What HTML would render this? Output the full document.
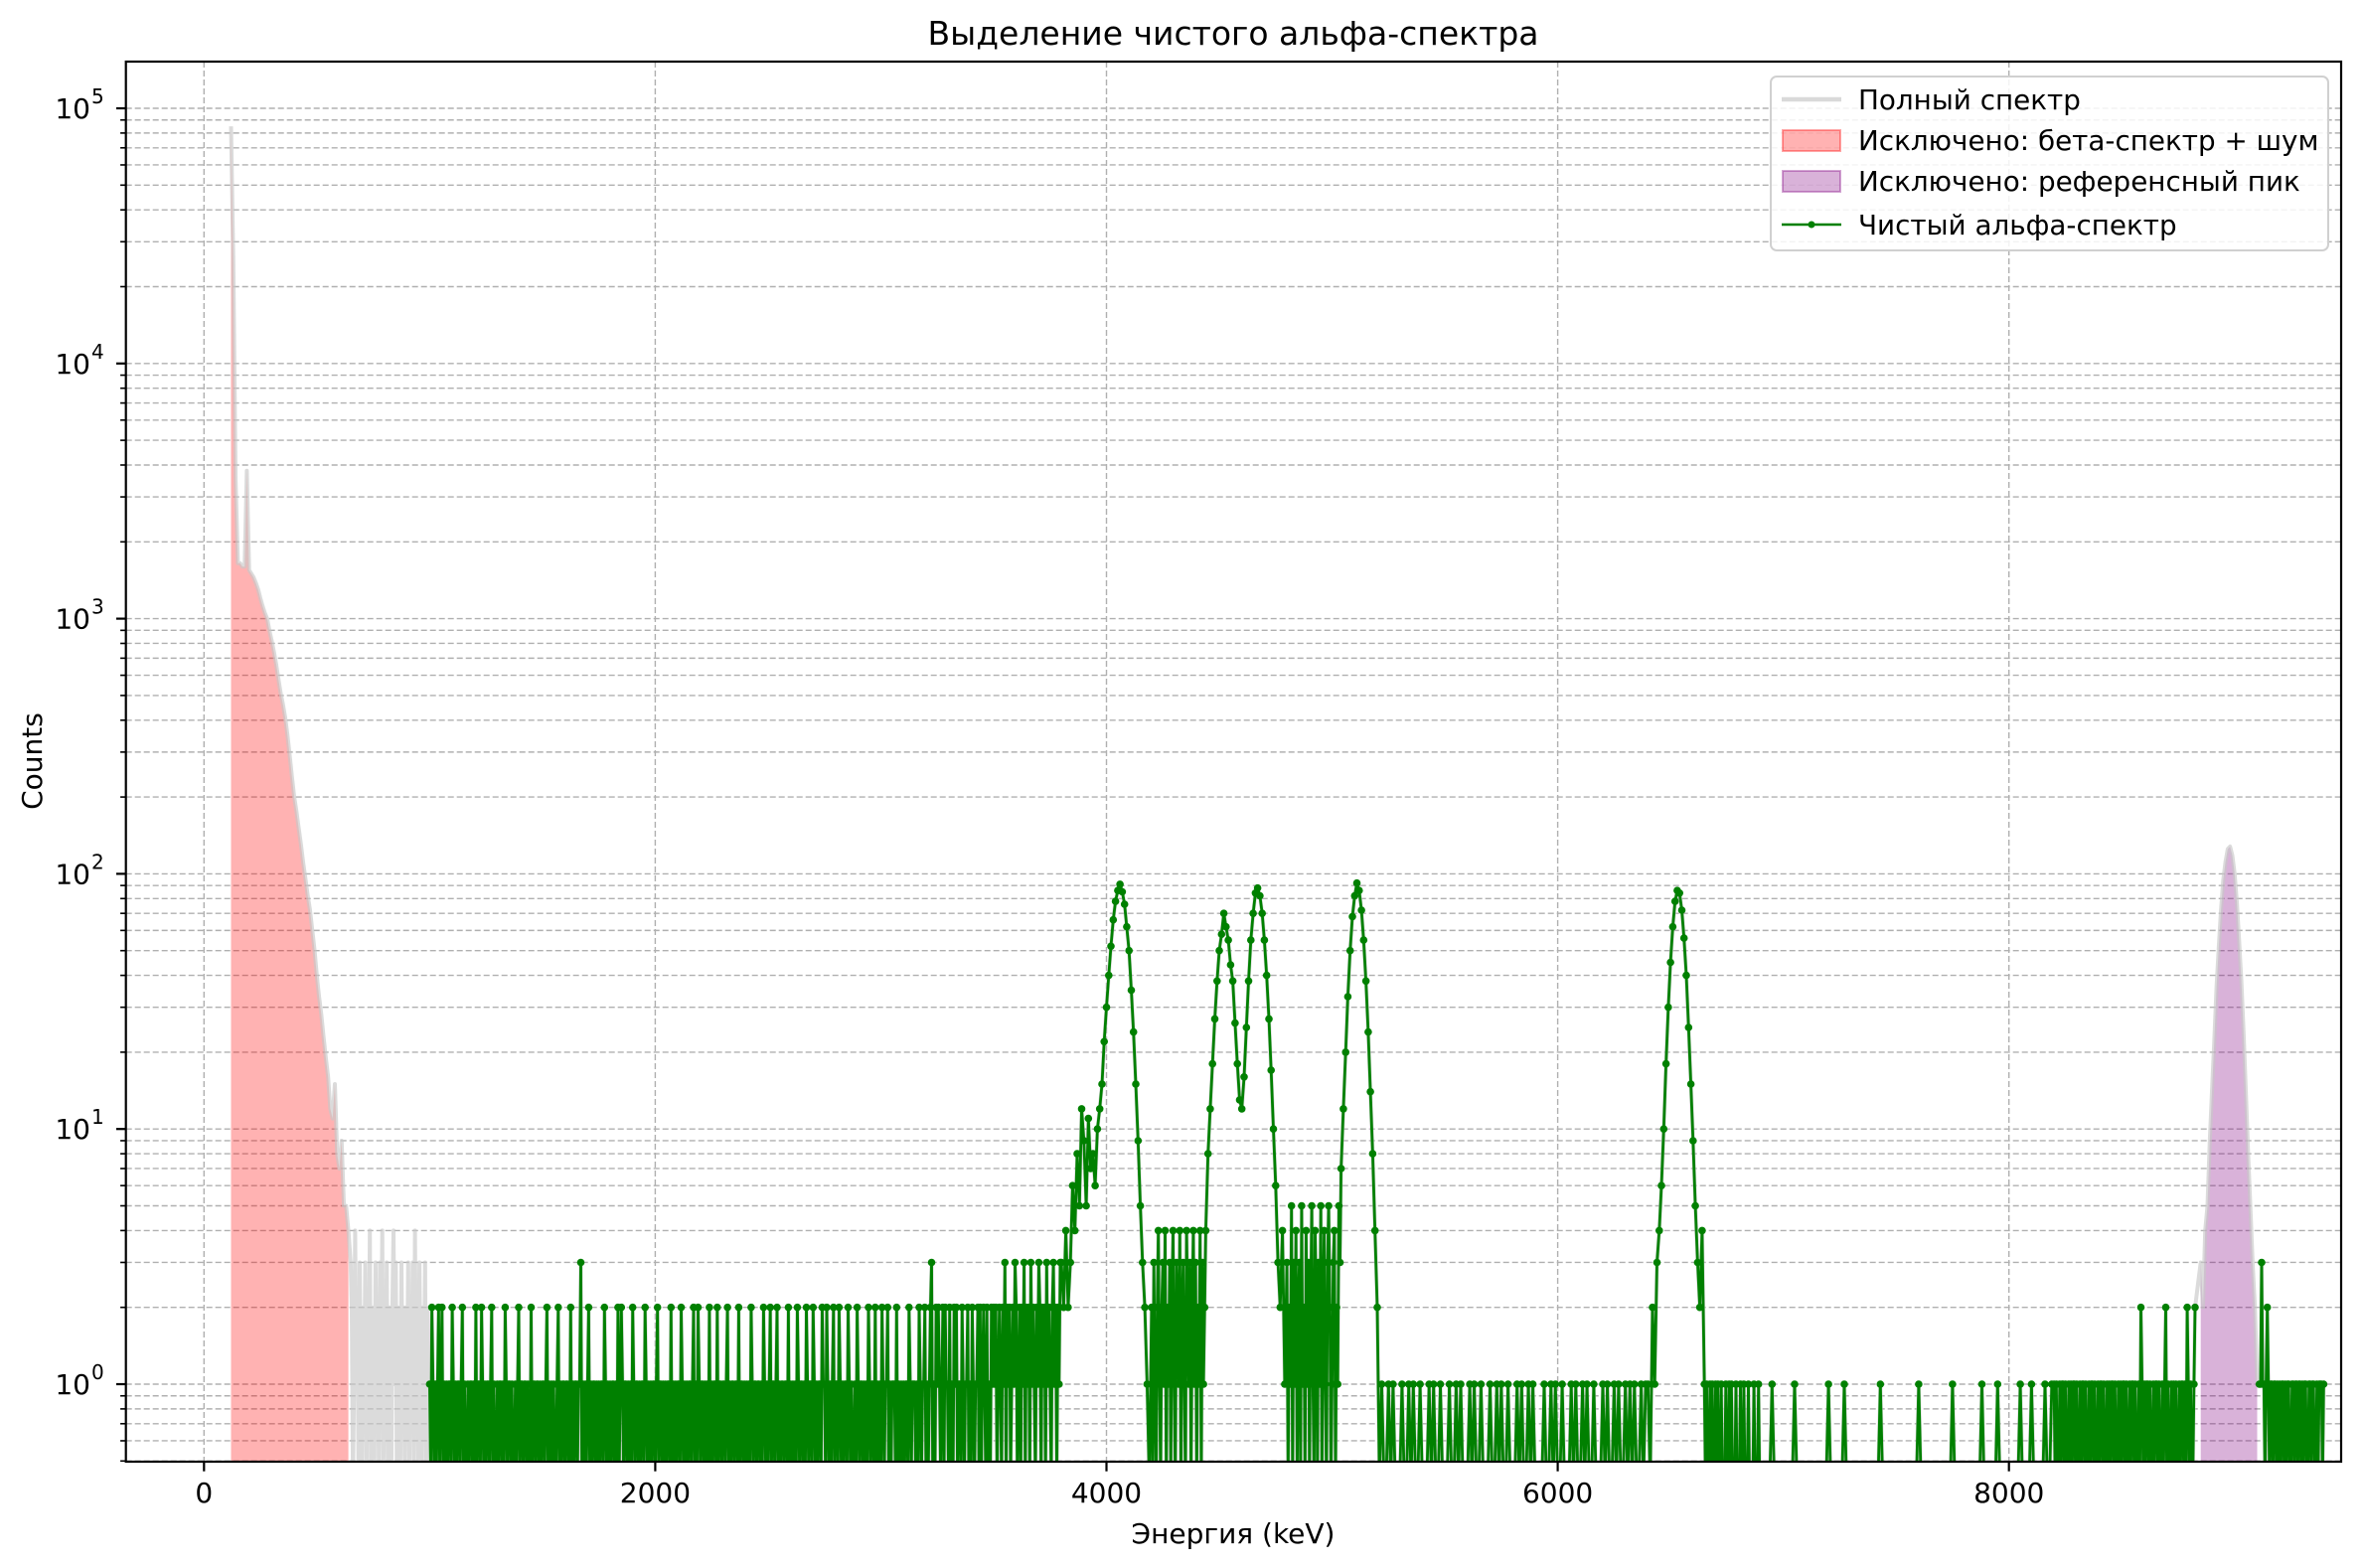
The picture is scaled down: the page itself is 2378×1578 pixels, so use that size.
<!DOCTYPE html>
<html><head><meta charset="utf-8"><style>
html,body{margin:0;padding:0;background:#fff}
svg{display:block;font-family:"DejaVu Sans","Liberation Sans",sans-serif}
</style></head><body>
<svg id="chart" xmlns="http://www.w3.org/2000/svg" width="2378" height="1578" viewBox="0 0 2378 1578">
<defs><clipPath id="plotClip"><rect x="126.7" y="62" width="2229.3" height="1409"/></clipPath></defs>
<rect width="2378" height="1578" fill="#fff"/>
<g id="grid"></g>
<g id="series" clip-path="url(#plotClip)"></g>
<rect x="126.7" y="62" width="2229.3" height="1409" fill="none" stroke="#000" stroke-width="2.2"/>
<g id="ticks"></g>
<text x="1241" y="45" text-anchor="middle" font-size="33">Выделение чистого альфа-спектра</text>
<text x="1241" y="1553" text-anchor="middle" font-size="28">Энергия (keV)</text>
<text transform="translate(42,766) rotate(-90)" text-anchor="middle" font-size="28">Counts</text>
<g>
<rect x="1782" y="77" width="561" height="175" rx="6" fill="#fff" fill-opacity="0.85" stroke="#d0d0d0" stroke-width="2"/>
<g><line x1="1793" y1="100" x2="1853" y2="100" stroke="#d9d9d9" stroke-width="4.5"/><text x="1870" y="110" font-size="27.8">Полный спектр</text></g>
<g><rect x="1794" y="131" width="58" height="21" fill="rgba(255,0,0,0.3)" stroke="rgba(255,0,0,0.35)" stroke-width="2"/><text x="1870" y="151" font-size="27.8">Исключено: бета-спектр + шум</text></g>
<g><rect x="1794" y="172" width="58" height="21" fill="rgba(128,0,128,0.3)" stroke="rgba(128,0,128,0.35)" stroke-width="2"/><text x="1870" y="192" font-size="27.8">Исключено: референсный пик</text></g>
<g><line x1="1793" y1="226" x2="1853" y2="226" stroke="#008000" stroke-width="2.6"/><circle cx="1823" cy="226" r="3.5" fill="#008000"/><text x="1870" y="236" font-size="27.8">Чистый альфа-спектр</text></g>
</g>
</svg>
<script>
// ---- data ----
const xTicks = [0, 2000, 4000, 6000, 8000];
const yDecades = [0, 1, 2, 3, 4, 5];
const betaStart = 120, betaWidth = 10;
const betaCounts = [85000,25000,3500,1650,1650,1600,1600,3800,1550,1500,1450,1380,1300,1200,1120,1050,1000,900,820,740,660,580,510,460,410,350,290,240,200,175,150,130,110,95,82,72,60,50,40,33,28,23,19,16,12,11,15,8,7,9,5,5,4];
const noiseStart = 650, noiseWidth = 5;
const noiseDigits = "3201412031021302140210312031402130210241302103120213021304120310213021";
// alpha background (digit per 5 keV bin)
const bgA = "10210101201201010110210101101201001011010201102101" +
 "01101201001011010210110100101201101101002011011010" +
 "11012010101001201011011002010110113010101201011010" +
 "10110210101011010201210110101021011010110210101011" +
 "01201101010110201010110210101011012010210110101020" +
 "10110201101101201011011020110101010210110110102101" +
 "01201101201011011020101010210110102101102101011021" +
 "10210101201102101011021010010210110101021011020101" +
 "02101120101110201010101102101110102101120101230102" +
 "12101202110201021201102101120102101120201210201021";
const bgAStart = 1000;
const bgB = "212012102130212012132012021302120312102132021203121023120213";
const bgBStart = 3500;
const bgC = "203102410231402130241032140231042130241302140312";
const bgCStart = 4200;
const bgD = "302150314023051204130251042031502410352013402153";
const bgDStart = 4800;
// sparse region (digit per 10 keV bin)
const bgE = "01001010001001010010001010010001001010001010010001" +
 "00101001000101001010000100101001000101001010010001" +
 "0100101001010100101";
const bgEStart = 5210;
const bgF = "10100101001010010001001010001000100100010000100010";
const bgFStart = 6650;
const bgG = "10100101101001010110100101101001011010010110100101" +
 "01101001010110100101101001021010110100101101001012" +
 "01001010100101101021010012";
const bgGStart = 8200;
const bgH = "1131101210110110101011010110011011011010110011011001011101";
const bgHStart = 9110;
// peaks (10 keV bins)
const peak1Start = 3800;
const peak1Counts = [3,2,4,2,3,6,4,8,5,12,9,5,11,7,8,6,10,12,15,22,30,40,52,66,78,86,91,85,76,62,50,35,24,15,9,5,3,2,1,0];
const peak23Start = 4440;
const peak23Counts = [4,8,12,18,27,38,50,58,70,62,55,44,38,26,18,13,12,16,25,38,55,70,84,88,82,70,55,40,27,17,10,6,3,2,4,1];
const peak4Start = 5040;
const peak4Counts = [7,12,20,33,50,68,82,92,86,72,55,38,24,14,8,4,2];
const peak5Start = 6400;
const peak5Counts = [1,0,2,1,3,4,6,10,18,30,45,62,78,86,84,72,56,40,25,15,9,5,3,2,4];
const sparseStart = 6900;
const sparseCounts = [0,0,0,0,0,1,0,0,0,0, 0,0,0,0,0,1,0,0,0,0, 0,0,0,0,0,0,0,0,0,0, 1,0,0,0,0,0,0,1,0,0, 0,0,0,0,0,0,0,0,0,0,
0,0,0,1,0,0,0,0,0,0, 0,0,0,0,0,0,0,0,0,0, 1,0,0,0,0,0,0,0,0,0, 0,0,0,0,0,1,0,0,0,0, 0,0,0,0,0,0,0,0,1,0,
0,0,0,0,0,1,0,0,0,0, 0,0,0,0,0,1,0,0,0,0, 1,0,0,0,0,0,1,0,0,1];
const refStart = 8850;
const refCounts = [3,2,4,5,9,14,22,36,52,72,95,112,125,128,118,100,78,55,38,24,14,8,5,3,2,1];

// ---- scales ----
const X0 = 205.3, KX = 0.22705, Y0 = 1393, KY = 256.8, BOTTOM = 1471, LEFT = 126.7, RIGHT = 2356, TOP = 62;
function xs(e){ return X0 + e*KX; }
function ys(v){ return v > 0 ? Y0 - Math.log10(v)*KY : BOTTOM + 20; }
function digits(s){ return s.split('').map(Number); }
const NS = 'http://www.w3.org/2000/svg';
function mk(tag, attrs, parent){ const el = document.createElementNS(NS, tag); for (const k in attrs) el.setAttribute(k, attrs[k]); parent.appendChild(el); return el; }
function pts(start, w, counts){ return counts.map((v,i)=>[xs(start+i*w), ys(v), v]); }

const grid = document.getElementById('grid'), series = document.getElementById('series'), ticks = document.getElementById('ticks');

xTicks.forEach(t=>{
  const x = xs(t);
  const g = mk('line',{x1:x,x2:x,y1:TOP,y2:BOTTOM,stroke:'#b0b0b0','stroke-width':1.4,'stroke-dasharray':'6,3'},grid);
  
  
  const tk = mk('line',{x1:x,x2:x,y1:BOTTOM,y2:BOTTOM+9.7,stroke:'#000','stroke-width':2.2},ticks);
  
  
  const lb = mk('text',{x:x,y:BOTTOM+41,'text-anchor':'middle','font-size':28},ticks);
  lb.textContent = String(t);
  
  
});
for (let d=-1; d<=5; d++){
  for (let m=1; m<=9; m++){
    const v = m*Math.pow(10,d), y = ys(v);
    if (y < TOP || y > BOTTOM) continue;
    const gl = mk('line',{x1:LEFT,x2:RIGHT,y1:y,y2:y,stroke:'#b0b0b0','stroke-width':1.4,'stroke-dasharray':'6,3'},grid);
    
    
    const tk = mk('line',{x1:LEFT-(m===1?9.7:5.6),x2:LEFT,y1:y,y2:y,stroke:'#000','stroke-width':m===1?2.2:1.6},ticks);
    
    
  }
}
yDecades.forEach(d=>{
  const y = ys(Math.pow(10,d));
  const lb = mk('text',{x:91,y:y+10,'text-anchor':'end','font-size':28},ticks);
  lb.textContent = '10';
  
  
  const sp = mk('text',{x:92,y:y-5,'text-anchor':'start','font-size':20},ticks);
  sp.textContent = String(d);
  
  
});

const alphaSegs = [
  [bgAStart,5,digits(bgA)],[bgBStart,5,digits(bgB)],[peak1Start,10,peak1Counts],
  [bgCStart,5,digits(bgC)],[peak23Start,10,peak23Counts],[bgDStart,5,digits(bgD)],
  [peak4Start,10,peak4Counts],[bgEStart,10,digits(bgE)],[peak5Start,10,peak5Counts],
  [bgFStart,5,digits(bgF)],[sparseStart,10,sparseCounts],[bgGStart,5,digits(bgG)]
];
const tailSeg = [bgHStart,5,digits(bgH)];
const allSegs = [[betaStart,betaWidth,betaCounts],[noiseStart,noiseWidth,digits(noiseDigits)]].concat(alphaSegs,[[refStart,10,refCounts],tailSeg]);
let fullD = '';
allSegs.forEach(([s,w,c])=>pts(s,w,c).forEach(p=>{ fullD += (fullD?'L':'M') + p[0].toFixed(1)+','+p[1].toFixed(1); }));

function areaPath(s,w,c){ const p = pts(s,w,c); let d = 'M'+p[0][0].toFixed(1)+','+BOTTOM; p.forEach(q=>{ d+='L'+q[0].toFixed(1)+','+Math.min(q[1],BOTTOM).toFixed(1); }); d+='L'+p[p.length-1][0].toFixed(1)+','+BOTTOM+'Z'; return d; }
const betaFill = mk('path',{d:areaPath(betaStart,betaWidth,betaCounts),fill:'#ff0000','fill-opacity':0.3,stroke:'none'},series);


const refFill = mk('path',{d:areaPath(refStart,10,refCounts),fill:'#800080','fill-opacity':0.3,stroke:'none'},series);


const fullLine = mk('path',{d:fullD,fill:'none',stroke:'#c8c8c8','stroke-opacity':0.65,'stroke-width':4,'stroke-linejoin':'round'},series);



const alphaG = mk('g',{},series);


function drawAlpha(list){
  let d='';
  list.forEach(([s,w,c])=>pts(s,w,c).forEach(q=>{ d += (d?'L':'M') + q[0].toFixed(1)+','+q[1].toFixed(1); }));
  const ln = mk('path',{d:d,fill:'none',stroke:'#008000','stroke-width':2.8,'stroke-linejoin':'round'},alphaG);
  
  
  list.forEach(([s,w,c])=>pts(s,w,c).forEach(q=>{ if (q[2]>0){
    const cc = mk('circle',{cx:q[0].toFixed(1),cy:q[1].toFixed(1),r:3.8,fill:'#008000'},alphaG);
    
    
  }}));
}
drawAlpha(alphaSegs);
drawAlpha([tailSeg]);
</script>
</body></html>
